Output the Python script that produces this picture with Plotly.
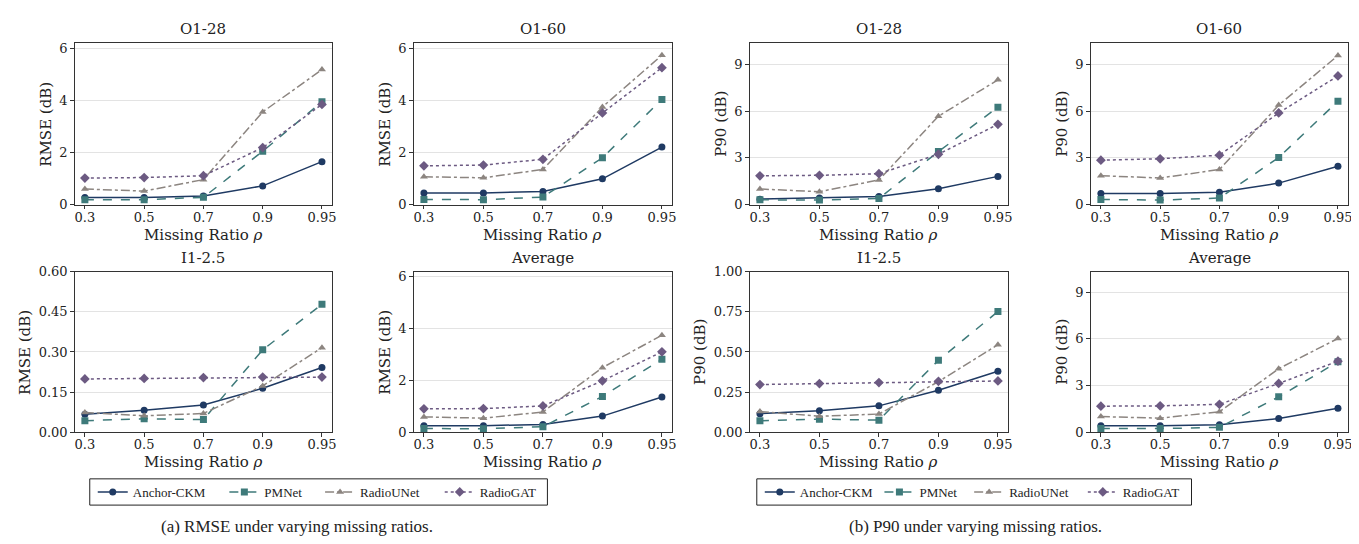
import plotly.graph_objects as go

ratios = ["0.3", "0.5", "0.7", "0.9", "0.95"]
methods = ["Anchor-CKM", "PMNet", "RadioUNet", "RadioGAT"]

# RMSE (dB)
rmse_o1_28 = {
    "Anchor-CKM": [0.27, 0.27, 0.33, 0.72, 1.65],
    "PMNet": [0.19, 0.19, 0.28, 2.05, 3.95],
    "RadioUNet": [0.60, 0.52, 0.96, 3.56, 5.19],
    "RadioGAT": [1.02, 1.04, 1.11, 2.19, 3.85],
}
rmse_o1_60 = {
    "Anchor-CKM": [0.45, 0.45, 0.50, 0.99, 2.21],
    "PMNet": [0.20, 0.19, 0.29, 1.80, 4.04],
    "RadioUNet": [1.07, 1.03, 1.35, 3.75, 5.74],
    "RadioGAT": [1.49, 1.52, 1.74, 3.52, 5.26],
}
rmse_i1_25 = {
    "Anchor-CKM": [0.067, 0.082, 0.102, 0.164, 0.242],
    "PMNet": [0.043, 0.050, 0.047, 0.308, 0.478],
    "RadioUNet": [0.074, 0.061, 0.070, 0.173, 0.316],
    "RadioGAT": [0.199, 0.201, 0.204, 0.206, 0.206],
}
rmse_avg = {
    "Anchor-CKM": [0.25, 0.25, 0.30, 0.62, 1.36],
    "PMNet": [0.14, 0.13, 0.21, 1.38, 2.81],
    "RadioUNet": [0.59, 0.54, 0.78, 2.49, 3.74],
    "RadioGAT": [0.90, 0.91, 1.01, 1.98, 3.10],
}
# P90 (dB)
p90_o1_28 = {
    "Anchor-CKM": [0.35, 0.42, 0.52, 1.02, 1.81],
    "PMNet": [0.31, 0.29, 0.40, 3.40, 6.25],
    "RadioUNet": [1.00, 0.83, 1.58, 5.67, 8.00],
    "RadioGAT": [1.85, 1.88, 1.98, 3.23, 5.15],
}
p90_o1_60 = {
    "Anchor-CKM": [0.71, 0.71, 0.79, 1.38, 2.46],
    "PMNet": [0.33, 0.29, 0.42, 3.02, 6.63],
    "RadioUNet": [1.85, 1.71, 2.25, 6.38, 9.56],
    "RadioGAT": [2.85, 2.94, 3.17, 5.88, 8.25],
}
p90_i1_25 = {
    "Anchor-CKM": [0.115, 0.133, 0.164, 0.261, 0.380],
    "PMNet": [0.071, 0.081, 0.075, 0.448, 0.752],
    "RadioUNet": [0.129, 0.099, 0.113, 0.315, 0.545],
    "RadioGAT": [0.297, 0.303, 0.309, 0.317, 0.319],
}
p90_avg = {
    "Anchor-CKM": [0.42, 0.42, 0.48, 0.875, 1.54],
    "PMNet": [0.23, 0.23, 0.31, 2.27, 4.52],
    "RadioUNet": [1.00, 0.90, 1.31, 4.08, 6.02],
    "RadioGAT": [1.67, 1.69, 1.79, 3.13, 4.56],
}

panel_titles = ["O1-28", "O1-60", "O1-28", "O1-60", "I1-2.5", "Average", "I1-2.5", "Average"]
panel_data = [rmse_o1_28, rmse_o1_60, p90_o1_28, p90_o1_60, rmse_i1_25, rmse_avg, p90_i1_25, p90_avg]
panel_ylabel = ["RMSE (dB)", "RMSE (dB)", "P90 (dB)", "P90 (dB)", "RMSE (dB)", "RMSE (dB)", "P90 (dB)", "P90 (dB)"]
panel_yrange = [[0, 6.2], [0, 6.2], [0, 10.35], [0, 10.35], [0, 0.6], [0, 6.19], [0, 1.0], [0, 10.31]]
panel_ytick = [[0, 2, 4, 6], [0, 2, 4, 6], [0, 3, 6, 9], [0, 3, 6, 9],
               [0, 0.15, 0.30, 0.45, 0.60], [0, 2, 4, 6], [0, 0.25, 0.50, 0.75, 1.00], [0, 3, 6, 9]]
panel_ytext = [["0", "2", "4", "6"], ["0", "2", "4", "6"], ["0", "3", "6", "9"], ["0", "3", "6", "9"],
               ["0.00", "0.15", "0.30", "0.45", "0.60"], ["0", "2", "4", "6"],
               ["0.00", "0.25", "0.50", "0.75", "1.00"], ["0", "3", "6", "9"]]

colors = {"Anchor-CKM": "#1f3a63", "PMNet": "#3e7a7a", "RadioUNet": "#8c8580", "RadioGAT": "#6c5a82"}
dashes = {"Anchor-CKM": "solid", "PMNet": "dash", "RadioUNet": "dashdot", "RadioGAT": "dot"}
symbols = {"Anchor-CKM": "circle", "PMNet": "square", "RadioUNet": "triangle-up", "RadioGAT": "diamond"}

W, H = 1359, 544
# panel pixel boxes (left, right) and (top, bottom)
xpx = [(67, 325), (407, 666), (744, 1003), (1086, 1344)]
ypx = [(29, 195), (264, 429)]

# legend boxes (left, right, top, bottom) and item start offsets
leg_boxes = [(82, 541, 477, 504), (751, 1187, 477, 504)]
item_offsets = [[8, 140, 236, 356], [8, 128, 218, 332]]

fig = go.Figure()
serif = "DejaVu Serif"
times = "Liberation Serif"
txt = "#222222"

for i in range(8):
    row, col = divmod(i, 4)
    xl, xr = xpx[col]
    yt, yb = ypx[row]
    ax = "" if i == 0 else str(i + 1)
    data = panel_data[i]
    for k, m in enumerate(methods):
        show = i in (0, 2)
        leg_idx = k + 1 + (4 if i == 2 else 0)
        leg = "legend" if leg_idx == 1 else "legend%d" % leg_idx
        fig.add_trace(go.Scatter(
            x=ratios, y=data[m], name=m, mode="lines+markers",
            line=dict(color=colors[m], width=1.5, dash=dashes[m]),
            marker=dict(symbol=symbols[m], size=7 if symbols[m] != "diamond" else 7.5, color=colors[m]),
            xaxis="x" + ax, yaxis="y" + ax, showlegend=show, legend=leg if show else "legend",
        ))
    axis_common = dict(showline=True, mirror=True, linecolor="#333333", linewidth=1.2,
                       ticks="outside", ticklen=3.5, tickcolor="#333333",
                       tickfont=dict(family=serif, size=13, color=txt))
    fig.layout["xaxis" + ax] = dict(domain=[xl / W, xr / W], anchor="y" + ax, type="category",
                                    range=[-0.17, 4.17], showgrid=False, ticklabelstandoff=-3,
                                    **axis_common)
    fig.layout["yaxis" + ax] = dict(domain=[1 - yb / H, 1 - yt / H], anchor="x" + ax,
                                    range=panel_yrange[i], tickvals=panel_ytick[i], ticktext=panel_ytext[i],
                                    showgrid=True, gridcolor="#e3e3e3", gridwidth=1, zeroline=False,
                                    **axis_common)
    # panel title
    fig.add_annotation(x=(xl + xr) / 2 / W, y=1 - (yt - 14.5) / H, xref="paper", yref="paper",
                       text=panel_titles[i], showarrow=False, xanchor="center", yanchor="middle",
                       font=dict(family=serif, size=15, color=txt))
    # x title
    fig.add_annotation(x=(xl + xr) / 2 / W, y=1 - (yb + 31) / H, xref="paper", yref="paper",
                       text="Missing Ratio <i>ρ</i>", showarrow=False, xanchor="center", yanchor="middle",
                       font=dict(family=serif, size=15, color=txt))
    # y title
    if row == 1 and col in (0, 2):
        ylab_x = xl - 50
    else:
        ylab_x = xl - 29
    fig.add_annotation(x=ylab_x / W, y=1 - (yt + yb) / 2 / H, xref="paper", yref="paper",
                       text=panel_ylabel[i], showarrow=False, textangle=-90,
                       xanchor="center", yanchor="middle",
                       font=dict(family=serif, size=15, color=txt))

# legends: one per entry, placed inside a framed box
legends = {}
for b, (bl, br, bt, bb) in enumerate(leg_boxes):
    fig.add_shape(type="rect", xref="paper", yref="paper",
                  x0=bl / W, x1=br / W, y0=1 - bb / H, y1=1 - bt / H,
                  line=dict(color="#222222", width=1), fillcolor="rgba(0,0,0,0)", layer="above")
    for k in range(4):
        idx = b * 4 + k + 1
        key = "legend" if idx == 1 else "legend%d" % idx
        legends[key] = dict(orientation="h", bgcolor="rgba(0,0,0,0)", borderwidth=0,
                            font=dict(family=times, size=13, color=txt),
                            x=(bl + item_offsets[b][k] - 5) / W, y=1 - (bt + bb) / 2 / H,
                            xanchor="left", yanchor="middle", itemwidth=30)
fig.update_layout(**legends)

fig.add_annotation(x=290 / W, y=1 - 526 / H, xref="paper", yref="paper",
                   text="(a) RMSE under varying missing ratios.", showarrow=False,
                   xanchor="center", yanchor="middle",
                   font=dict(family=times, size=17, color=txt))
fig.add_annotation(x=970 / W, y=1 - 526 / H, xref="paper", yref="paper",
                   text="(b) P90 under varying missing ratios.", showarrow=False,
                   xanchor="center", yanchor="middle",
                   font=dict(family=times, size=17, color=txt))

fig.update_layout(width=W, height=H, margin=dict(l=0, r=0, t=0, b=0),
                  plot_bgcolor="white", paper_bgcolor="white")

fig.write_html("out.html")
